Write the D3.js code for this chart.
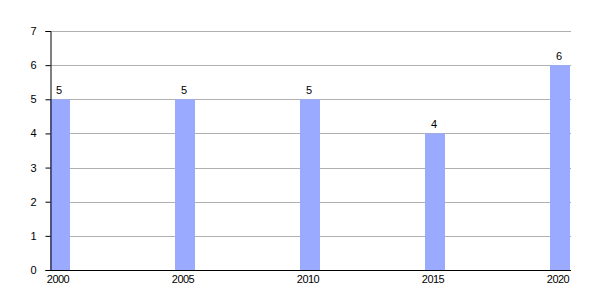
<!doctype html>
<html>
  <head>
    <meta charset="utf-8">
    <title>Bar chart</title>
    <script src="https://cdnjs.cloudflare.com/ajax/libs/d3/7.8.5/d3.min.js"></script>
    <style>
      body { margin: 0; background: #fff; }
      text { font-family: "Liberation Sans", Arial, sans-serif; font-size: 11px; fill: #000; }
    </style>
  </head>
  <body>
    <div id="chart"></div>
    <script>
      // data
      const years = ['2000', '2005', '2010', '2015', '2020'];
      const values = [5, 5, 5, 4, 6];
      const yTicks = [0, 1, 2, 3, 4, 5, 6, 7];

      const width = 600, height = 300;
      const plotLeft = 50, plotRight = 570, plotTop = 31, plotBottom = 270;

      const svg = d3.select('#chart')
        .append('svg')
        .attr('width', width)
        .attr('height', height);

      const x = d3.scaleBand()
        .domain(years)
        .range([plotLeft, plotRight])
        .paddingInner(0.84)
        .paddingOuter(0);

      const y = d3.scaleLinear()
        .domain([0, 7])
        .range([plotBottom, plotTop]);

      // gridlines
      svg.append('g')
        .selectAll('line')
        .data(yTicks.filter(d => d > 0))
        .join('line')
        .attr('x1', plotLeft)
        .attr('x2', plotRight + 1)
        .attr('y1', d => Math.round(y(d)) + 0.5)
        .attr('y2', d => Math.round(y(d)) + 0.5)
        .attr('stroke', '#b0b0b0')
        .attr('stroke-width', 1);

      // bars
      svg.append('g')
        .selectAll('rect')
        .data(values)
        .join('rect')
        .attr('x', (d, i) => x(years[i]))
        .attr('y', d => y(d))
        .attr('width', x.bandwidth())
        .attr('height', d => y(0) - y(d))
        .attr('fill', '#9aabff');

      // value labels
      svg.append('g')
        .selectAll('text')
        .data(values)
        .join('text')
        .attr('x', (d, i) => x(years[i]) + x.bandwidth() / 2 - 1)
        .attr('y', d => y(d) - 5)
        .attr('text-anchor', 'middle')
        .text(d => d);

      // y axis
      const yAxis = svg.append('g')
        .attr('transform', `translate(${plotLeft + 0.5},0)`)
        .call(d3.axisLeft(y).tickValues(yTicks).tickFormat(d3.format('d')).tickSize(5).tickPadding(9));
      yAxis.select('.domain').attr('stroke', '#000');
      yAxis.selectAll('.tick line').attr('stroke', '#000');
      yAxis.selectAll('.tick text')
        .style('font-family', '"Liberation Sans", Arial, sans-serif')
        .style('font-size', '11px');

      // x axis
      const xAxis = svg.append('g')
        .attr('transform', `translate(0,${plotBottom + 0.5})`)
        .call(d3.axisBottom(x).tickSize(0).tickPadding(5));
      xAxis.select('.domain').attr('d', `M${plotLeft},0H${plotRight + 1}`).attr('stroke', '#000');
      xAxis.selectAll('.tick text')
        .attr('dx', -2)
        .style('font-family', '"Liberation Sans", Arial, sans-serif')
        .style('font-size', '11px')
        .style('letter-spacing', '-0.5px');
    </script>
  </body>
</html>
